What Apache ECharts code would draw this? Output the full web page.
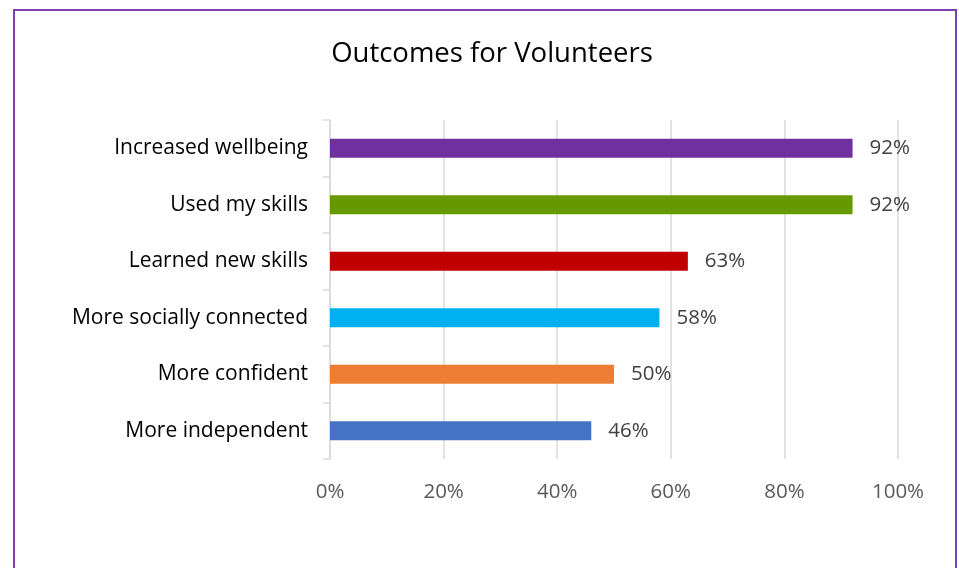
<!DOCTYPE html>
<html>
<head>
<meta charset="utf-8">
<style>
  html, body { margin: 0; padding: 0; background: #ffffff; }
  #chart { width: 959px; height: 568px; }
</style>
<script src="https://cdn.jsdelivr.net/npm/echarts@6/dist/echarts.min.js"></script>
</head>
<body>
<div id="chart"></div>
<script>
// Survey outcomes, listed top to bottom
const categories = [
  'Increased wellbeing',
  'Used my skills',
  'Learned new skills',
  'More socially connected',
  'More confident',
  'More independent'
];
const percentValues = [92, 92, 63, 58, 50, 46];
const barColors = ['#7030A0', '#669900', '#C00000', '#00B0F0', '#ED7D31', '#4472C4'];
const xTicks = [0, 20, 40, 60, 80, 100];

const FONT = 'Open Sans';
const chart = echarts.init(document.getElementById('chart'), null, { renderer: 'canvas' });

chart.setOption({
  animation: false,
  backgroundColor: '#ffffff',
  textStyle: { fontFamily: FONT },
  title: {
    text: 'Outcomes for Volunteers',
    left: 487,
    textAlign: 'center',
    top: 35,
    textStyle: { fontFamily: FONT, fontSize: 27.5, fontWeight: 'normal', color: '#000000' }
  },
  graphic: [{
    type: 'rect',
    shape: { x: 14, y: 10, width: 942, height: 600 },
    style: { fill: 'none', stroke: '#7a3fb0', lineWidth: 2 },
    silent: true
  }],
  grid: { left: 330, right: 61, top: 120, bottom: 109, containLabel: false },
  xAxis: {
    type: 'value',
    min: xTicks[0],
    max: xTicks[xTicks.length - 1],
    interval: 20,
    axisLine: { show: false },
    axisTick: { show: false },
    splitLine: { show: true, lineStyle: { color: '#d9d9d9', width: 1.5 } },
    axisLabel: {
      margin: 23,
      color: '#595959',
      fontFamily: FONT,
      fontSize: 20.5,
      formatter: v => v + '%'
    }
  },
  yAxis: {
    type: 'category',
    data: categories,
    inverse: true,
    axisLine: { show: true, lineStyle: { color: '#d9d9d9', width: 1.5 } },
    axisTick: { show: true, length: 7, lineStyle: { color: '#d9d9d9', width: 1.5 } },
    axisLabel: {
      margin: 22,
      color: '#000000',
      fontFamily: FONT,
      fontSize: 21
    }
  },
  series: [{
    type: 'bar',
    barWidth: 19,
    data: percentValues.map((v, i) => ({ value: v, itemStyle: { color: barColors[i] } })),
    label: {
      show: true,
      position: 'right',
      distance: 17,
      color: '#404040',
      fontFamily: FONT,
      fontSize: 20.5,
      formatter: p => p.value + '%'
    }
  }]
});
</script>
</body>
</html>
